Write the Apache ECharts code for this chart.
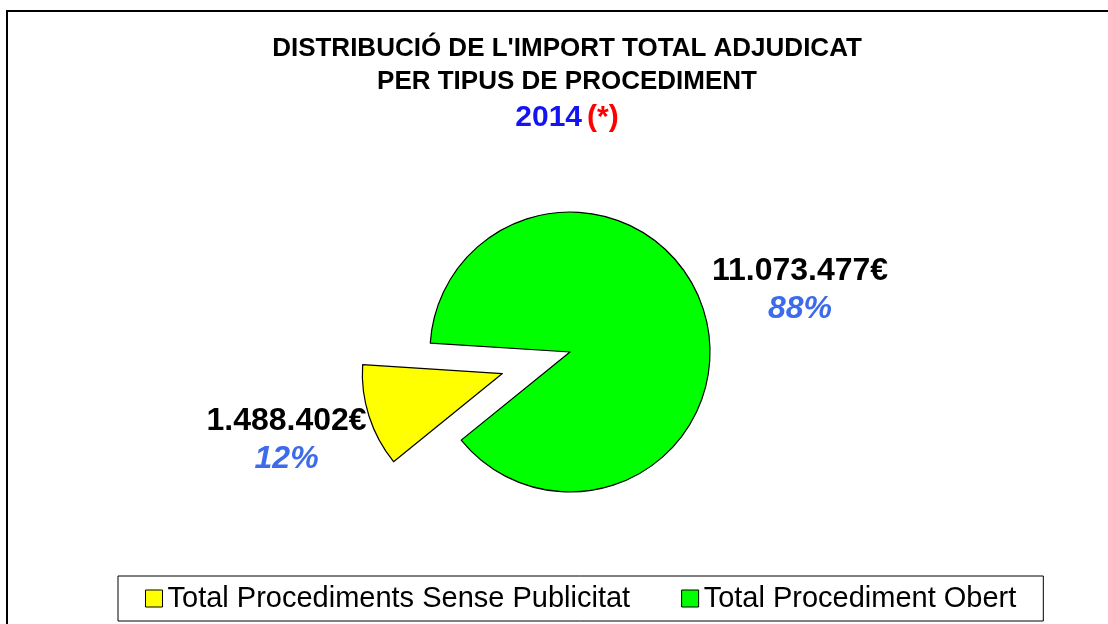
<!DOCTYPE html>
<html>
<head>
<meta charset="utf-8">
<script src="https://cdn.jsdelivr.net/npm/echarts@6/dist/echarts.min.js"></script>
<style>
html, body { margin: 0; padding: 0; background: #fff; }
#main { width: 1108px; height: 624px; }
</style>
</head>
<body>
<div id="main"></div>
<script>
var categories = ['Total Procediments Sense Publicitat', 'Total Procediment Obert'];
var amounts = [1488402, 11073477];
var exploded = [true, false];

var font = '"Liberation Sans", Arial, sans-serif';

// 11073477 -> 11.073.477
function fmt(v) {
    return String(v).replace(/\B(?=(\d{3})+(?!\d))/g, '.');
}

var pieData = [];
for (var i = 0; i < categories.length; i++) {
    pieData.push({
        name : categories[i],
        value : amounts[i],
        selected : exploded[i]
    });
}
// the exploded slice keeps its label in the select state, so place it with the label line lengths
pieData[0].labelLine = { show : false, length : 78, length2 : -77 };

var myChart = echarts.init(document.getElementById('main'));
var option = {
    backgroundColor : '#fff',
    animation : false,
    color : ['#ffff00', '#00ff00'],
    title : {
        left : 562,
        top : 27,
        textAlign : 'center',
        text : "{a|DISTRIBUCIÓ DE L'IMPORT TOTAL ADJUDICAT}\n{a|PER TIPUS DE PROCEDIMENT}\n{b|2014} {c|(*)}",
        textStyle : {
            fontFamily : font,
            rich : {
                a : { fontSize : 26, fontWeight : 'bold', color : '#000', lineHeight : 33, fontFamily : font },
                b : { fontSize : 30, fontWeight : 'bold', color : '#1414f0', lineHeight : 39, fontFamily : font },
                c : { fontSize : 30, fontWeight : 'bold', color : '#ff0000', lineHeight : 39, fontFamily : font }
            }
        }
    },
    legend : {
        left : 118,
        top : 576,
        orient : 'horizontal',
        padding : [8, 27],
        itemGap : 51,
        itemWidth : 17,
        itemHeight : 17,
        icon : 'rect',
        borderColor : '#000',
        borderWidth : 1,
        itemStyle : { borderColor : '#000', borderWidth : 1 },
        textStyle : { fontFamily : font, fontSize : 29, color : '#000' },
        data : categories
    },
    graphic : [{
        type : 'rect',
        shape : { x : 7, y : 11, width : 1200, height : 700 },
        style : { fill : 'none', stroke : '#000', lineWidth : 2 },
        silent : true
    }],
    series : [{
        type : 'pie',
        center : [570, 352],
        radius : 140,
        startAngle : 219,
        clockwise : true,
        selectedMode : 'single',
        selectedOffset : 71,
        avoidLabelOverlap : false,
        itemStyle : { borderColor : '#000', borderWidth : 1.2 },
        emphasis : { disabled : true },
        labelLine : { show : false },
        label : {
            show : true,
            position : 'outside',
            formatter : function(p) {
                return '{v|' + fmt(p.value) + '€}\n{p|' + Math.round(p.percent) + '%}';
            },
            rich : {
                v : { fontFamily : font, fontSize : 32, fontWeight : 'bold', color : '#000', lineHeight : 38, align : 'center' },
                p : { fontFamily : font, fontSize : 32, fontWeight : 'bold', fontStyle : 'italic', color : '#3d6bea', lineHeight : 38, align : 'center' }
            }
        },
        labelLayout : function(params) {
            if (params.dataIndex === 1) {
                return { x : 800, y : 290, align : 'center', verticalAlign : 'middle' };
            }
            return {};
        },
        data : pieData
    }]
};
myChart.setOption(option);
</script>
</body>
</html>
